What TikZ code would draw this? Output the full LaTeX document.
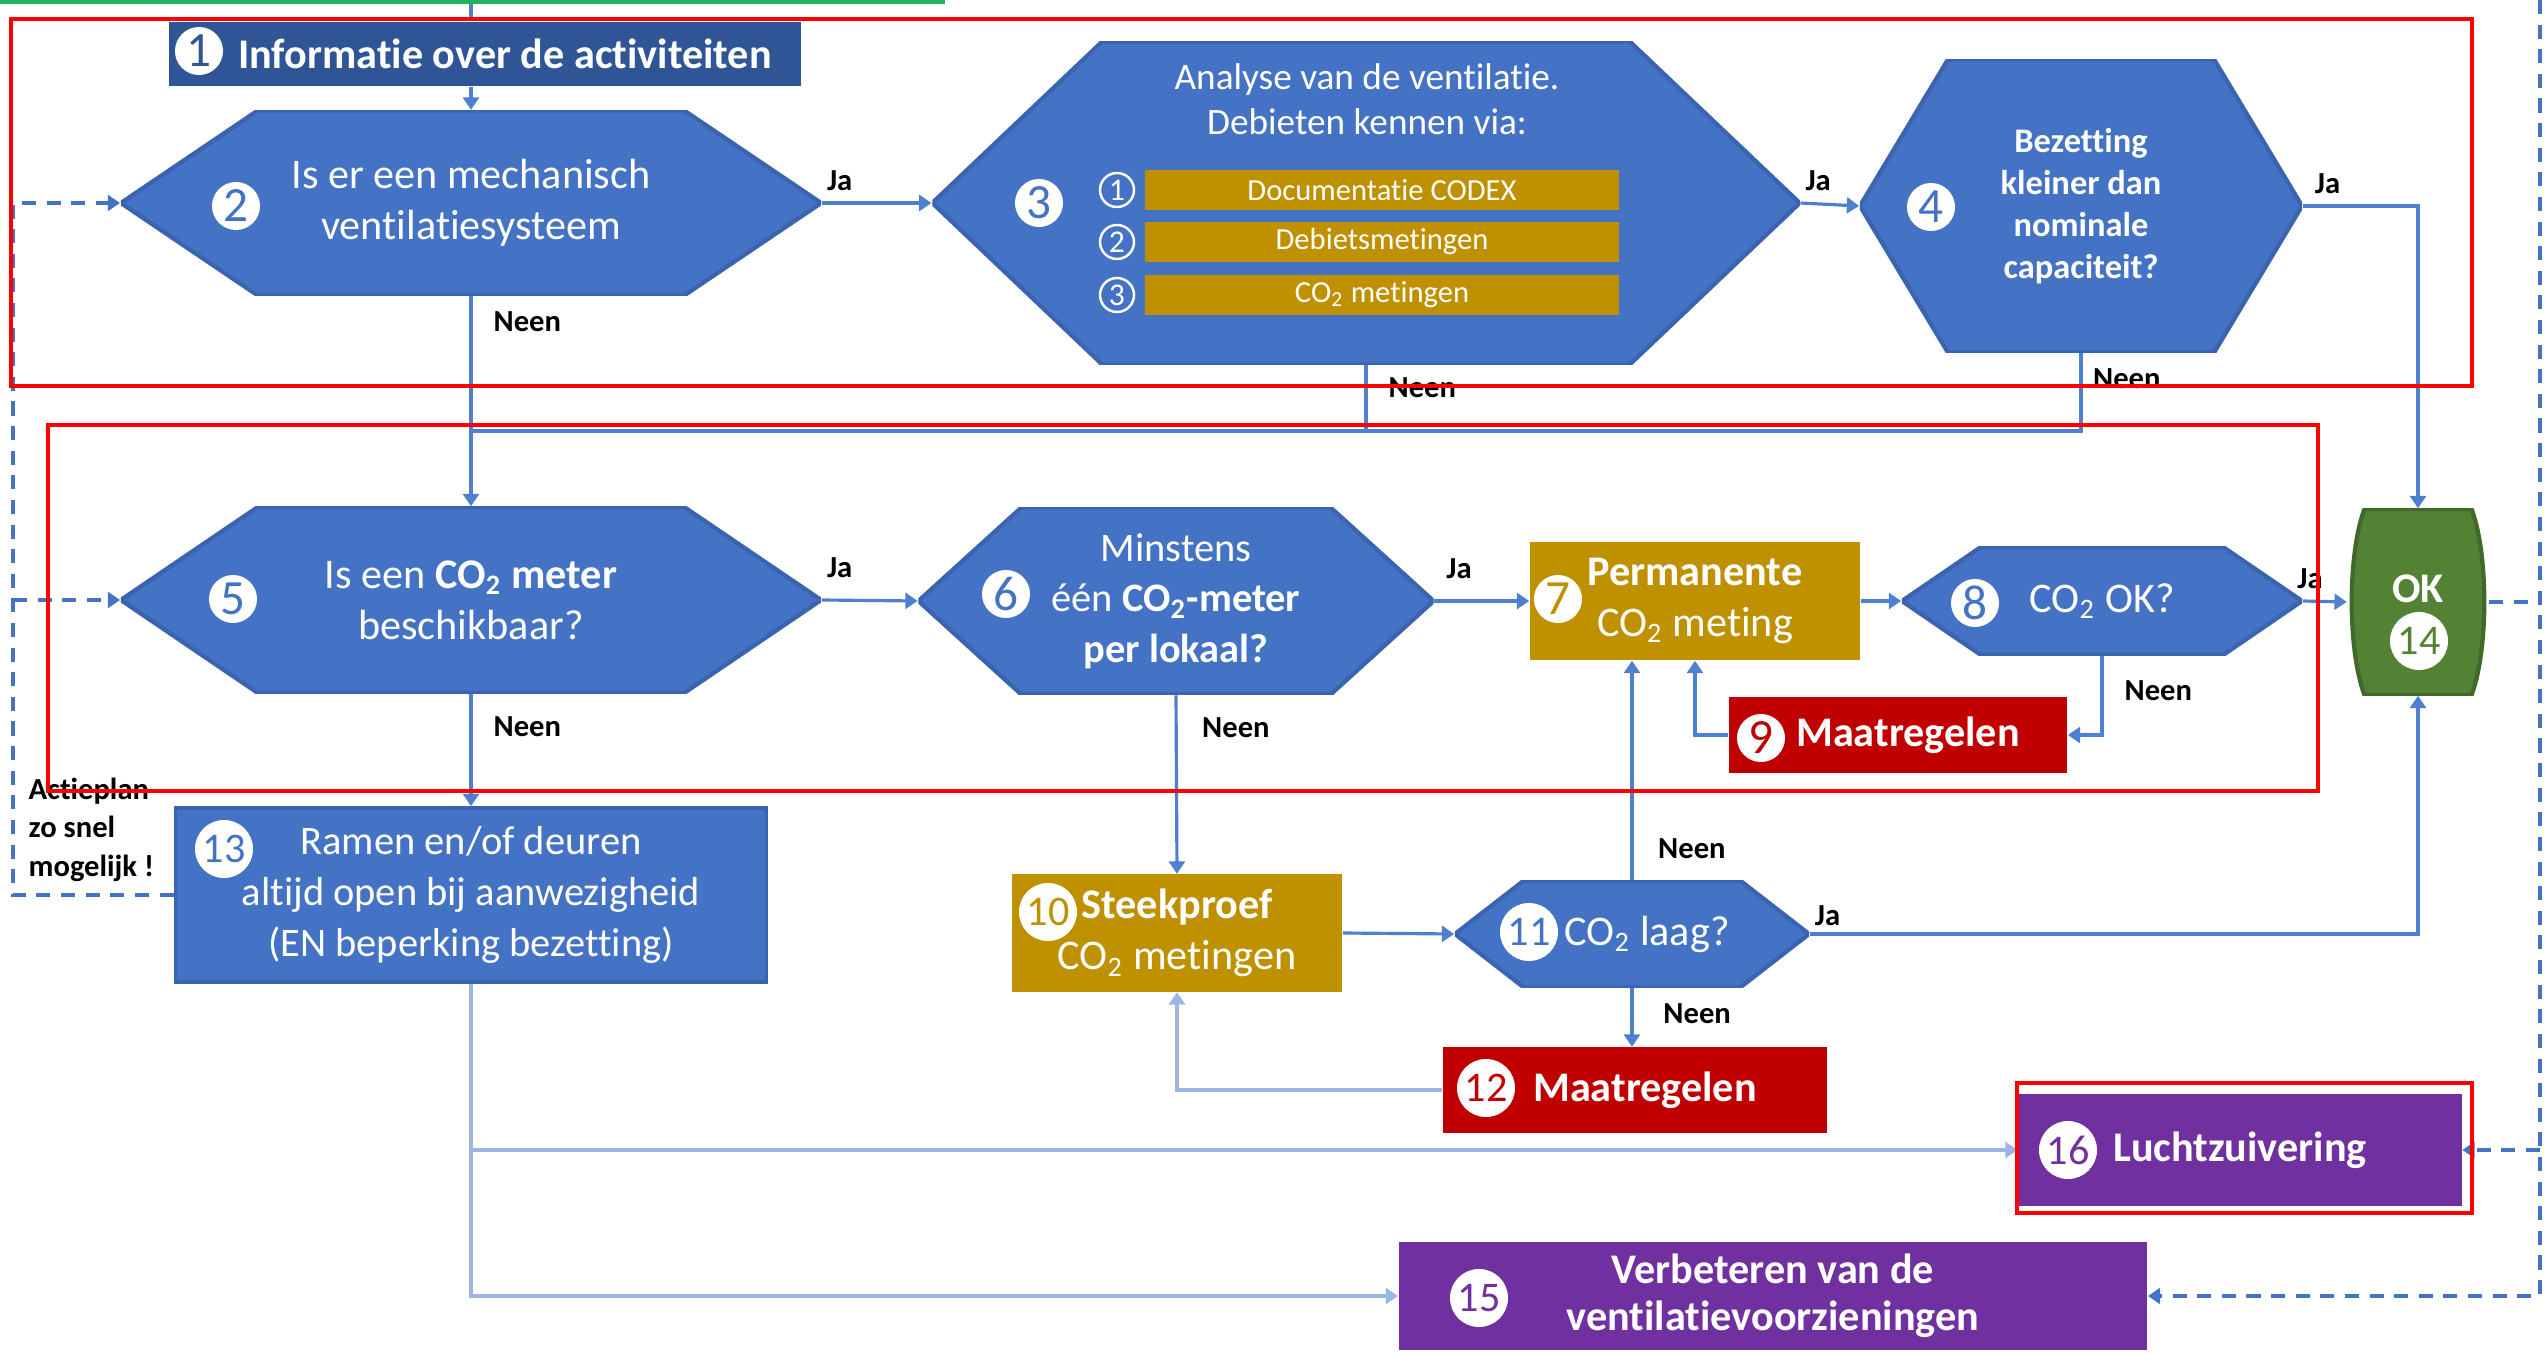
\documentclass[tikz,border=0pt]{standalone}
\usepackage{fontspec}
\setmainfont{Carlito}[Ligatures=NoCommon]
\usetikzlibrary{arrows.meta}

\definecolor{hexblue}{HTML}{4472C4}
\definecolor{hexedge}{HTML}{3A64B0}
\definecolor{titleblue}{HTML}{2F5597}
\definecolor{goldc}{HTML}{BF9000}
\definecolor{redc}{HTML}{C00000}
\definecolor{purplec}{HTML}{7030A0}
\definecolor{okgreen}{HTML}{548235}
\definecolor{okedge}{HTML}{41692A}
\definecolor{lineblue}{HTML}{4F7FCF}
\definecolor{lightline}{HTML}{9DB5E2}
\definecolor{framered}{HTML}{FF0000}
\definecolor{topgreen}{HTML}{21B45C}

\newcommand{\cotwo}{CO\textsubscript{2}}

\begin{document}
\begin{tikzpicture}[
	x=0.01cm, y=-0.01cm,
	hex inset/.store in=\hexinset,
	hex inset=1cm,
	hexa/.style={
		rectangle, inner sep=0pt, align=center, text=white,
		font=\fontsize{12}{14.5}\selectfont,
		path picture={
			\filldraw[fill=hexblue, draw=hexedge, line width=1.2pt]
				([xshift=\hexinset]path picture bounding box.north west)
				-- ([xshift=-\hexinset]path picture bounding box.north east)
				-- (path picture bounding box.east)
				-- ([xshift=-\hexinset]path picture bounding box.south east)
				-- ([xshift=\hexinset]path picture bounding box.south west)
				-- (path picture bounding box.west) -- cycle;
		}
	},
	okbox/.style={
		rectangle, inner sep=0pt, minimum width=1.41cm, minimum height=1.86cm,
		path picture={
			\filldraw[fill=okgreen, draw=okedge, line width=1.2pt]
				([xshift=0.17cm]path picture bounding box.north west)
				-- ([xshift=-0.17cm]path picture bounding box.north east)
				.. controls ([yshift=-0.45cm]path picture bounding box.north east)
				and ([yshift=0.45cm]path picture bounding box.south east)
				.. ([xshift=-0.17cm]path picture bounding box.south east)
				-- ([xshift=0.17cm]path picture bounding box.south west)
				.. controls ([yshift=0.45cm]path picture bounding box.south west)
				and ([yshift=-0.45cm]path picture bounding box.north west)
				.. ([xshift=0.17cm]path picture bounding box.north west) -- cycle;
		}
	},
	rectbox/.style={
		rectangle, inner sep=0pt, align=center, text=white,
		font=\fontsize{12}{14.5}\selectfont
	},
	badge/.style={circle, fill=white, inner sep=0pt, minimum size=#1},
	ring/.style={
		circle, draw=white, line width=0.7pt, inner sep=0pt, minimum size=0.34cm,
		text=white, font=\fontsize{9}{10}\selectfont
	},
	bar/.style={
		rectangle, fill=goldc, inner sep=0pt, minimum width=4.73cm,
		minimum height=0.4cm, text=white, font=\fontsize{8.7}{10}\selectfont
	},
	conn/.style={draw=lineblue, line width=0.9pt, -{Triangle[length=3.5pt, width=4.5pt]}},
	connl/.style={conn, draw=lightline},
	link/.style={draw=lineblue, line width=0.9pt},
	dashback/.style={draw=hexblue, line width=1pt, dash pattern=on 4pt off 3pt},
	dasharrow/.style={dashback, -{Triangle[length=3.5pt, width=4.5pt]}},
	lab/.style={text=black, inner sep=1pt, font=\bfseries\fontsize{8.7}{10}\selectfont},
	ja/.style={lab, pos=0, anchor=south west},
	neen/.style={lab, pos=0, anchor=north west},
	redframe/.style={draw=framered, line width=1.4pt}
]
	\useasboundingbox (0,0) rectangle (2547,1355);

	% Row 1
	\node[rectbox, fill=titleblue, minimum width=6.32cm, minimum height=0.64cm,
		font=\bfseries\fontsize{12}{14}\selectfont] (n1) at (485,54)
		{\hspace*{0.4cm}Informatie over de activiteiten};
	\node[hexa, hex inset=1.37cm, minimum width=7cm, minimum height=1.85cm] (h2)
		at (471,203) {Is er een mechanisch\\ventilatiesysteem};
	\node[hexa, hex inset=1.7cm, minimum width=8.67cm, minimum height=3.23cm] (h3)
		at (1366,203) {};
	\node[text=white, align=center, font=\fontsize{10.6}{12.8}\selectfont] (h3t)
		at (1367,99) {Analyse van de ventilatie.\\Debieten kennen via:};
	\foreach \i/\y/\barlabel in {1/190/Documentatie CODEX, 2/242/Debietsmetingen,
		3/295/{\cotwo{} metingen}} {
		\node[bar] (bar\i) at (1382,\y) {\barlabel};
		\node[ring] (ring\i) at (1117,\y) {\i};
	}
	\node[hexa, hex inset=0.88cm, minimum width=4.42cm, minimum height=2.93cm,
		font=\bfseries\fontsize{9.8}{12}\selectfont] (h4) at (2081,206)
		{Bezetting\\kleiner dan\\nominale\\capaciteit?};

	% Row 2
	\node[hexa, hex inset=1.37cm, minimum width=7cm, minimum height=1.86cm] (h5)
		at (471,600) {Is een \textbf{\cotwo{} meter}\\beschikbaar?};
	\node[hexa, hex inset=1.03cm, minimum width=5.15cm, minimum height=1.87cm,
		font=\fontsize{11.5}{14.3}\selectfont] (h6) at (1176,601)
		{Minstens\\één \textbf{\cotwo-meter}\\\textbf{per lokaal?}};
	\node[rectbox, fill=goldc, minimum width=3.3cm, minimum height=1.18cm] (n7)
		at (1695,601) {\textbf{Permanente}\\\cotwo{} meting};
	\node[hexa, hex inset=0.79cm, minimum width=4cm, minimum height=1.08cm] (h8)
		at (2102,601) {\cotwo{} OK?};
	\node[rectbox, fill=redc, minimum width=3.38cm, minimum height=0.76cm,
		font=\bfseries\fontsize{12}{14}\selectfont] (n9) at (1898,735)
		{\hspace*{0.2cm}Maatregelen};
	\node[okbox] (ok) at (2418,602) {};
	\node[text=white, font=\bfseries\fontsize{12}{14}\selectfont] (okt)
		at (2418,589) {OK};

	% Row 3
	\node[rectbox, fill=hexblue, draw=hexedge, line width=1pt, minimum width=5.91cm,
		minimum height=1.74cm, font=\fontsize{11.5}{14.4}\selectfont] (n13) at (471,895)
		{Ramen en/of deuren\\altijd open bij aanwezigheid\\(EN beperking bezetting)};
	\node[rectbox, fill=goldc, minimum width=3.3cm, minimum height=1.17cm] (n10)
		at (1177,933) {\textbf{Steekproef}\\\cotwo{} metingen};
	\node[hexa, hex inset=0.69cm, minimum width=3.54cm, minimum height=1.07cm] (h11)
		at (1632,934) {\hspace*{0.3cm}\cotwo{} laag?};
	\node[rectbox, fill=redc, minimum width=3.84cm, minimum height=0.85cm,
		font=\bfseries\fontsize{12}{14}\selectfont] (n12) at (1635,1090)
		{\hspace*{0.2cm}Maatregelen};
	\node[rectbox, fill=purplec, minimum width=4.43cm, minimum height=1.11cm,
		font=\bfseries\fontsize{12}{14}\selectfont] (n16) at (2240,1150) {Luchtzuivering};
	\node[rectbox, fill=purplec, minimum width=7.48cm, minimum height=1.08cm,
		font=\bfseries\fontsize{12}{13.4}\selectfont] (n15) at (1773,1296)
		{Verbeteren van de\\ventilatievoorzieningen};
	\node[lab, align=left, anchor=north west, inner sep=0pt,
		font=\bfseries\fontsize{8.7}{11}\selectfont] (plan) at (28,777)
		{Actieplan\\zo snel\\mogelijk !};

	% Badges
	\foreach \n/\x/\y/\col in {1/199/51/titleblue, 2/236/206/hexblue, 3/1039/203/hexblue,
		4/1931/207/hexblue, 5/233/599/hexblue, 6/1006/594/hexblue, 7/1558/599/goldc,
		8/1975/603/hexblue, 9/1761/738/redc} {
		\node[badge=0.48cm, text=\col, font=\fontsize{14}{14}\selectfont] (b\n) at (\x,\y) {\n};
	}
	\foreach \n/\x/\y/\col in {10/1048/912/goldc, 11/1529/932/hexblue, 12/1486/1088/redc,
		13/224/849/hexblue, 14/2419/641/okgreen, 15/1479/1298/purplec,
		16/2068/1150/purplec} {
		\node[badge=0.58cm, text=\col, font=\fontsize{12}{12}\selectfont] (b\n) at (\x,\y) {\n};
	}

	% Connectors
	\coordinate (top) at (471,0);
	\coordinate (jn) at (471,431);
	\draw[link] (top) -- (top |- n1.north);
	\draw[conn] (h2.north |- n1.south) -- (h2.north);
	\draw[conn] (h2.east) -- node[ja, yshift=2pt]{Ja} (h3.west);
	\draw[conn] (h3.east) -- node[ja, yshift=2pt]{Ja} (h4.west);
	\draw[conn] (h4.east) -| node[ja, xshift=2pt, yshift=2pt]{Ja} (ok.north);
	\draw[conn] (h2.south) -- node[neen, xshift=5pt, yshift=-3pt]{Neen} (h5.north);
	\draw[link] (h3.south) |- node[neen, xshift=5pt, yshift=-2pt]{Neen} (jn);
	\draw[link] (h4.south) |- node[neen, xshift=2pt, yshift=-3pt]{Neen} (jn);
	\draw[conn] (h5.east) -- node[ja, yshift=5pt]{Ja} (h6.west);
	\draw[conn] (h6.east) -- node[ja, xshift=2pt, yshift=5pt]{Ja} (n7.west);
	\draw[conn] (n7.east) -- (h8.west);
	\draw[conn] (h8.east) -- node[ja, xshift=-3pt, yshift=2pt]{Ja} (ok.west);
	\draw[conn] (h8.south) |- node[neen, xshift=5pt, yshift=-5.5pt]{Neen} (n9.east);
	\draw[conn] (n9.west) -| (n7.south);
	\draw[conn] (h6.south) -- node[neen, xshift=6pt, yshift=-5pt]{Neen} (n10.north);
	\draw[conn] (h5.south) -- node[neen, xshift=5pt, yshift=-5pt]{Neen} (n13.north);
	\draw[conn] (n10.east) -- (h11.west);
	\draw[conn] (h11.north) -- node[lab, pos=0, anchor=south west, xshift=6pt, yshift=4.5pt]{Neen}
		(h11.north |- n7.south);
	\draw[conn] (h11.east) -| node[ja, yshift=1pt]{Ja} (ok.south);
	\draw[conn] (h11.south) -- node[neen, xshift=7.5pt, yshift=-3pt]{Neen} (h11.south |- n12.north);
	\draw[connl] (n12.west) -| (n10.south);
	\draw[connl] (n13.south) |- (n16.west);
	\draw[connl] (n13.south) |- (n15.west);

	% Feedback loops
	\coordinate (lb) at (13,895);
	\coordinate (lt) at (13,203);
	\coordinate (rt) at (2540,0);
	\coordinate (rb) at (2540,1296);
	\draw[dasharrow] (n13.west) -- (lb) -- (lt) -- (h2.west);
	\draw[dasharrow] (lb |- h5.west) -- (h5.west);
	\draw[dashback] (ok.east) -- (ok.east -| rt);
	\draw[dasharrow] (rt) -- (rb) -- (n15.east);
	\draw[dasharrow] (rt |- n16.east) -- (n16.east);

	% Frames
	\fill[topgreen] (0,0) rectangle (945,4);
	\draw[redframe] (11,19) rectangle (2472,386);
	\draw[redframe] (48,425) rectangle (2318,791);
	\draw[redframe] (2017,1083) rectangle (2472,1213);
\end{tikzpicture}
\end{document}
